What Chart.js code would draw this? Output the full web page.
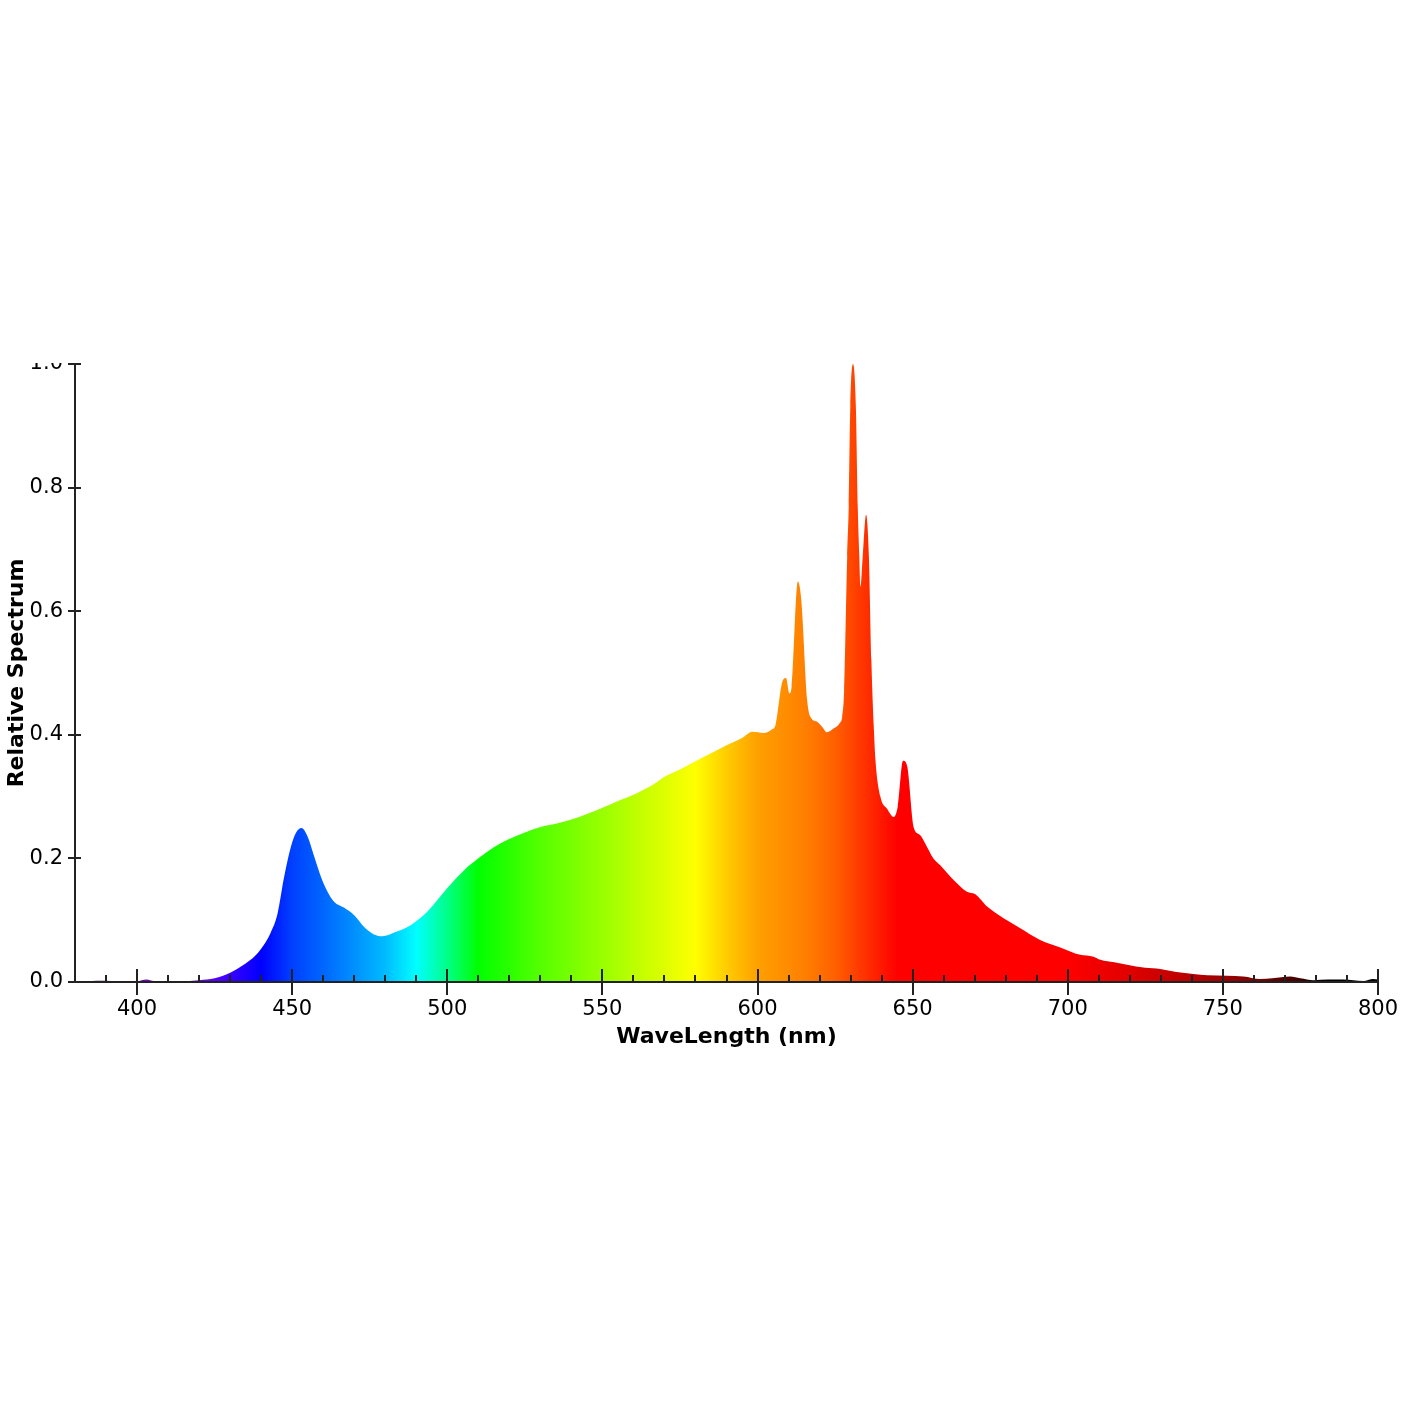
<!DOCTYPE html>
<html>
<head>
<meta charset="utf-8">
<script src="https://cdn.jsdelivr.net/npm/chart.js@4/dist/chart.umd.min.js"></script>
<style>
  html, body { margin: 0; padding: 0; background: #fff; }
  #wrap { width: 1420px; height: 1420px; }
</style>
</head>
<body>
<div id="wrap"><canvas id="chart"></canvas></div>
<script>
// wavelength (nm) and relative spectrum
const wavelengths = [
  380, 384, 387, 390, 393, 397, 400, 403, 406, 410, 414, 418, 420, 425, 430, 435, 438, 440,
  443, 445.3, 447.4, 449.6, 451.2, 453, 455, 457.1, 459.3, 461.4, 463.5, 466.8, 470, 473.2,
  476.4, 479.1, 482.9, 488.2, 493.6, 500, 505.4, 510.8, 515, 519.4, 525, 530, 535, 540, 545,
  550, 555, 560, 566.5, 570, 575, 579.5, 585, 590, 595, 598.3, 602, 604.7, 605.8, 608, 609.2,
  610.3, 611, 613, 614.1, 616, 617.3, 619.2, 620.8, 622.4, 624.5, 626.5, 627.3, 627.9, 628.9,
  629.4, 629.9, 630.8, 631.7, 632.3, 632.8, 633.2, 633.9, 635, 635.9, 636.7, 637.5, 638, 639.6,
  641.8, 643.9, 645.2, 646.9, 648.2, 650.3, 652.4, 654.6, 656.7, 658.9, 663.2, 667.5, 670.2,
  674, 679.3, 684.7, 691.1, 697.6, 704, 708.3, 710.5, 715, 719.1, 725, 729.8, 735, 740.5, 745,
  751.3, 756.6, 762, 766, 771.7, 775, 779.2, 784, 788.8, 792, 795.3, 798.4, 800
];
const relativeSpectrum = [
  0, 0.001, 0.002, 0.002, 0.001, 0, 0.001, 0.004, 0.001, 0.001, 0.001, 0.002, 0.003, 0.006, 0.015, 0.03, 0.042, 0.054,
  0.079, 0.111, 0.17, 0.219, 0.241, 0.249, 0.235, 0.203, 0.17, 0.146, 0.13, 0.12, 0.108, 0.089,
  0.077, 0.074, 0.08, 0.092, 0.114, 0.152, 0.181, 0.203, 0.218, 0.23, 0.242, 0.251, 0.256, 0.263, 0.272,
  0.282, 0.293, 0.303, 0.32, 0.332, 0.344, 0.356, 0.37, 0.383, 0.395, 0.405, 0.403, 0.409, 0.416, 0.486, 0.492,
  0.467, 0.478, 0.648, 0.618, 0.456, 0.427, 0.421, 0.413, 0.404, 0.41, 0.419, 0.43, 0.47, 0.688,
  0.77, 0.93, 1.0, 0.93, 0.77, 0.69, 0.64, 0.688, 0.756, 0.688, 0.52, 0.41, 0.36, 0.3,
  0.28, 0.267, 0.284, 0.358, 0.35, 0.251, 0.238, 0.219, 0.2, 0.189, 0.165, 0.146, 0.142,
  0.122, 0.103, 0.087, 0.068, 0.056, 0.044, 0.041, 0.036, 0.032, 0.028, 0.023, 0.021, 0.016, 0.013, 0.011,
  0.01, 0.009, 0.005, 0.006, 0.009, 0.006, 0.003, 0.004, 0.004, 0.003, 0.0016, 0.005, 0.004
];
const xTickLabels = [400, 450, 500, 550, 600, 650, 700, 750, 800];
const yTickLabels = [0, 0.2, 0.4, 0.6, 0.8, 1.0];

// colour of the fill along the wavelength axis
const colourStops = [
  [380, '#2a0030'], [395, '#6a0080'], [410, '#7f00ff'], [425, '#5500ff'], [440, '#0000ff'],
  [450, '#0040ff'], [460, '#0066ff'], [470, '#0090ff'], [480, '#00bbff'], [490, '#00ffff'],
  [500, '#00ff88'], [510, '#00ff00'], [530, '#55ff00'], [550, '#99ff00'], [565, '#ccff00'],
  [580, '#ffff00'], [590, '#ffcc00'], [600, '#ffa000'], [615, '#ff8000'], [625, '#ff6000'],
  [635, '#ff3000'], [645, '#ff0000'], [700, '#ff0000'], [720, '#e00000'], [740, '#b80000'],
  [760, '#800000'], [775, '#400000'], [782, '#000000'], [800, '#000000']
];

function spectrumFill(context) {
  const chart = context.chart;
  if (!chart.chartArea) return 'rgba(0,0,0,0)';
  const x = chart.scales.x;
  const x0 = x.getPixelForValue(380), x1 = x.getPixelForValue(800);
  const g = chart.ctx.createLinearGradient(x0, 0, x1, 0);
  colourStops.forEach(([nm, c]) => g.addColorStop((x.getPixelForValue(nm) - x0) / (x1 - x0), c));
  return g;
}

// axis lines and crossing tick marks, drawn over the chart
const axisTicks = {
  id: 'axisTicks',
  afterDraw(chart) {
    const { ctx, chartArea: a, scales: { x, y } } = chart;
    ctx.save();
    // the original is cut off at the top of the plot
    ctx.fillStyle = '#fff';
    ctx.fillRect(0, 0, chart.width, a.top - 1);

    ctx.strokeStyle = '#222';
    ctx.lineWidth = 2;
    ctx.beginPath();
    ctx.moveTo(a.left, a.top);
    ctx.lineTo(a.left, a.bottom);
    ctx.moveTo(a.left - 2, a.bottom);
    ctx.lineTo(a.right, a.bottom);
    yTickLabels.forEach(v => {
      const py = Math.round(y.getPixelForValue(v));
      ctx.moveTo(a.left - 7, py);
      ctx.lineTo(a.left + 6, py);
    });
    for (let nm = 390; nm <= 800; nm += 10) {
      const px = Math.round(x.getPixelForValue(nm));
      if (nm % 50 === 0) {
        ctx.moveTo(px, a.bottom - 13);
        ctx.lineTo(px, a.bottom + 13);
      } else {
        ctx.moveTo(px, a.bottom - 7);
        ctx.lineTo(px, a.bottom);
      }
    }
    ctx.stroke();
    ctx.restore();
  }
};

const font = { family: 'DejaVu Sans', size: 21 };
const titleFont = { family: 'DejaVu Sans', size: 22, weight: 'bold' };

new Chart(document.querySelector('#chart').getContext('2d'), {
  type: 'line',
  data: {
    datasets: [{
      data: wavelengths.map((w, i) => ({ x: w, y: relativeSpectrum[i] })),
      fill: 'origin',
      backgroundColor: spectrumFill,
      borderColor: 'rgba(0,0,0,0)',
      borderWidth: 0,
      pointRadius: 0,
      cubicInterpolationMode: 'monotone'
    }]
  },
  options: {
    responsive: true,
    maintainAspectRatio: false,
    animation: false,
    layout: { padding: { top: 364, left: 0, right: 42, bottom: 358 } },
    plugins: { legend: { display: false }, tooltip: { enabled: false } },
    scales: {
      x: {
        type: 'linear',
        min: 380,
        max: 800,
        afterBuildTicks: s => { s.ticks = xTickLabels.map(v => ({ value: v })); },
        afterFit: s => { s.height = 80; },
        grid: { display: false, drawTicks: false },
        border: { display: false },
        ticks: { font, color: '#000', padding: 15, maxRotation: 0, autoSkip: false },
        title: {
          display: true,
          text: 'WaveLength (nm)',
          color: '#000',
          font: titleFont,
          padding: { top: 0, bottom: 12 }
        }
      },
      y: {
        min: 0,
        max: 1,
        afterBuildTicks: s => { s.ticks = yTickLabels.map(v => ({ value: v })); },
        afterFit: s => { s.width = 75; },
        grid: { display: false, drawTicks: false },
        border: { display: false },
        ticks: { font, color: '#000', padding: 12, callback: v => v.toFixed(1) },
        title: {
          display: true,
          text: 'Relative Spectrum',
          color: '#000',
          font: titleFont,
          padding: { top: 4, bottom: 0 }
        }
      }
    }
  },
  plugins: [axisTicks]
});
</script>
</body>
</html>
